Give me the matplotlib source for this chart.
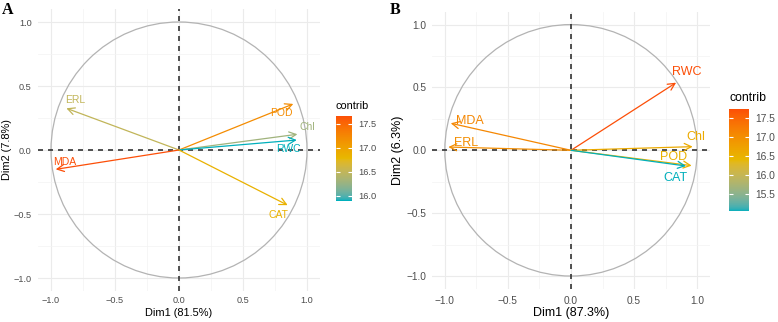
import matplotlib
matplotlib.use("Agg")
import numpy as np
import matplotlib.pyplot as plt
from matplotlib.colors import ListedColormap, Normalize, to_rgb
from matplotlib.cm import ScalarMappable
from matplotlib.patches import Circle

plt.rcParams['font.family'] = ['Liberation Sans', 'DejaVu Sans']

# ---- données ----
# panneau A
vars_a = ["ERL", "POD", "Chl", "RWC", "MDA", "CAT"]
dim1_a = [-0.880, 0.893, 0.925, 0.920, -0.963, 0.849]
dim2_a = [0.326, 0.360, 0.123, 0.078, -0.151, -0.431]
contrib_a = [16.5, 17.2, 16.3, 15.9, 17.67, 16.85]
xlab_a = "Dim1 (81.5%)"
ylab_a = "Dim2 (7.8%)"

# panneau B
vars_b = ["RWC", "MDA", "ERL", "Chl", "POD", "CAT"]
dim1_b = [0.833, -0.953, -0.972, 0.964, 0.956, 0.911]
dim2_b = [0.538, 0.215, 0.026, 0.029, -0.122, -0.125]
contrib_b = [17.73, 17.1, 17.0, 16.6, 16.5, 15.05]
xlab_b = "Dim1 (87.3%)"
ylab_b = "Dim2 (6.3%)"

axis_ticks = [-1.0, -0.5, 0.0, 0.5, 1.0]
cbar_ticks_a = [16.0, 16.5, 17.0, 17.5]
cbar_ticks_b = [15.5, 16.0, 16.5, 17.0, 17.5]
gradient_cols = ["#00AFBB", "#E7B800", "#FC4E07"]

# ---- mise en page (décalages des étiquettes par rapport à la pointe) ----
offsets_a = {"ERL": (0.069, 0.066), "POD": (-0.094, -0.068), "Chl": (0.08, 0.06),
             "RWC": (-0.065, -0.07), "MDA": (0.07, 0.054), "CAT": (-0.071, -0.076)}
offsets_b = {"RWC": (0.088, 0.083), "MDA": (0.154, 0.021), "ERL": (0.141, 0.03),
             "Chl": (0.025, 0.08), "POD": (-0.146, 0.072), "CAT": (-0.086, -0.098)}

GREY_TXT = "#4D4D4D"

# ---- dégradé interpolé dans l'espace CIELAB, comme ggplot ----
M = np.array([[0.4124, 0.3576, 0.1805],
              [0.2126, 0.7152, 0.0722],
              [0.0193, 0.1192, 0.9505]])
WHITE = np.array([0.95047, 1.0, 1.08883])


def rgb_to_lab(rgb):
    c = np.asarray(rgb, float)
    lin = np.where(c <= 0.04045, c / 12.92, ((c + 0.055) / 1.055) ** 2.4)
    xyz = M @ lin / WHITE
    f = np.where(xyz > 0.008856, np.cbrt(xyz), 7.787 * xyz + 16 / 116)
    return np.array([116 * f[1] - 16, 500 * (f[0] - f[1]), 200 * (f[1] - f[2])])


def lab_to_rgb(lab):
    L, a, b = lab
    fy = (L + 16) / 116
    fx = fy + a / 500
    fz = fy - b / 200
    f = np.array([fx, fy, fz])
    xyz = np.where(f ** 3 > 0.008856, f ** 3, (f - 16 / 116) / 7.787) * WHITE
    lin = np.linalg.solve(M, xyz)
    lin = np.clip(lin, 0, 1)
    c = np.where(lin <= 0.0031308, 12.92 * lin, 1.055 * lin ** (1 / 2.4) - 0.055)
    return np.clip(c, 0, 1)


labs = [rgb_to_lab(to_rgb(c)) for c in gradient_cols]
ramp = []
for t in np.linspace(0, 1, 256):
    seg = min(int(t * 2), 1)
    u = t * 2 - seg
    ramp.append(lab_to_rgb(labs[seg] * (1 - u) + labs[seg + 1] * u))
cmap = ListedColormap(ramp)


def draw_panel(fig, rect, cax_rect, title_xy, letter_xy, letter,
               names, d1, d2, contrib, offsets, xlab, ylab, cticks,
               xlab_y, ylab_x, fs):
    ax = fig.add_axes(rect)
    ax.set_xlim(-1.1, 1.1)
    ax.set_ylim(-1.1, 1.1)

    # grille façon theme_minimal
    ax.set_xticks(axis_ticks)
    ax.set_yticks(axis_ticks)
    ax.set_xticks([-0.75, -0.25, 0.25, 0.75], minor=True)
    ax.set_yticks([-0.75, -0.25, 0.25, 0.75], minor=True)
    ax.grid(which="major", color="#EBEBEB", lw=0.8)
    ax.grid(which="minor", color="#F3F3F3", lw=0.5)
    ax.set_axisbelow(True)
    for s in ax.spines.values():
        s.set_visible(False)
    ax.tick_params(which="both", length=0)
    ax.tick_params(axis="x", pad=fs["xpad"], labelsize=fs["tick"], labelcolor=GREY_TXT)
    ax.tick_params(axis="y", pad=fs["ypad"], labelsize=fs["tick"], labelcolor=GREY_TXT)
    ax.set_xticklabels([f"{t:.1f}".replace("-", "\u2212") for t in axis_ticks])
    ax.set_yticklabels([f"{t:.1f}".replace("-", "\u2212") for t in axis_ticks])

    # cercle de corrélation
    ax.add_patch(Circle((0, 0), 1.0, fill=False, color="#B3B3B3", lw=0.9, zorder=1))
    ax.axhline(0, color="#333333", lw=1.2, ls=(0, (3, 3)), zorder=2)
    ax.axvline(0, color="#333333", lw=1.2, ls=(0, (3, 3)), zorder=2)

    norm = Normalize(min(contrib), max(contrib))
    for n, x, y, c in zip(names, d1, d2, contrib):
        col = cmap(norm(c))
        ax.annotate("", xy=(x, y), xytext=(0, 0),
                    arrowprops=dict(arrowstyle="->,head_length=0.5,head_width=0.25",
                                    color=col, lw=0.9, shrinkA=0, shrinkB=0,
                                    mutation_scale=10), zorder=3)
    for n, x, y, c in zip(names, d1, d2, contrib):
        dx, dy = offsets[n]
        ax.text(x + dx, y + dy, n, color=cmap(norm(c)), fontsize=fs["lab"],
                ha="center", va="center", zorder=4)

    ax.set_xlabel(xlab, fontsize=fs["title"])
    ax.set_ylabel(ylab, fontsize=fs["title"])
    ax.xaxis.set_label_coords(0.5, xlab_y)
    ax.yaxis.set_label_coords(ylab_x, 0.5)
    ax.xaxis.label.set_va("center")
    ax.yaxis.label.set_va("center")

    # barre de couleur
    cax = fig.add_axes(cax_rect)
    sm = ScalarMappable(norm=norm, cmap=cmap)
    cb = fig.colorbar(sm, cax=cax)
    cb.outline.set_visible(False)
    cb.set_ticks(cticks)
    cb.set_ticklabels([f"{t:.1f}" for t in cticks])
    cax.tick_params(direction="in", length=3, width=0.8, color="white",
                    left=True, right=True, labelsize=fs["ctick"],
                    labelcolor=GREY_TXT, pad=4)
    fig.text(title_xy[0], title_xy[1], "contrib", fontsize=fs["ctitle"],
             ha="left", va="center")

    fig.text(letter_xy[0], letter_xy[1], letter, fontsize=11.5, fontweight="bold",
             family=["Liberation Serif", "DejaVu Serif"], ha="left", va="top")
    return ax


fig = plt.figure(figsize=(7.78, 3.22), dpi=100)
W, H = 778.0, 322.0

# panneau A
draw_panel(fig,
           [38.2 / W, 31.2 / H, 281.6 / W, 281.6 / H],
           [335.7 / W, 1 - 200.7 / H, 16.6 / W, 85 / H],
           (335 / W, 1 - 106 / H), (1.5 / W, 1 - 2 / H), "A",
           vars_a, dim1_a, dim2_a, contrib_a, offsets_a, xlab_a, ylab_a, cbar_ticks_a,
           -0.0778, -0.1097,
           dict(tick=6.6, title=7.9, lab=7.5, ctick=6.7, ctitle=7.9, xpad=4.0, ypad=4.6))

# panneau B
draw_panel(fig,
           [432.2 / W, 33.4 / H, 277.6 / W, 276.6 / H],
           [729.3 / W, 1 - 211 / H, 20 / W, 102 / H],
           (729 / W, 1 - 97.7 / H), (390 / W, 1 - 2 / H), "B",
           vars_b, dim1_b, dim2_b, contrib_b, offsets_b, xlab_b, ylab_b, cbar_ticks_b,
           -0.0893, -0.122,
           dict(tick=7.3, title=9.0, lab=9.0, ctick=7.4, ctitle=8.8, xpad=5.5, ypad=4.3))

fig.savefig("out.png", dpi=100)
